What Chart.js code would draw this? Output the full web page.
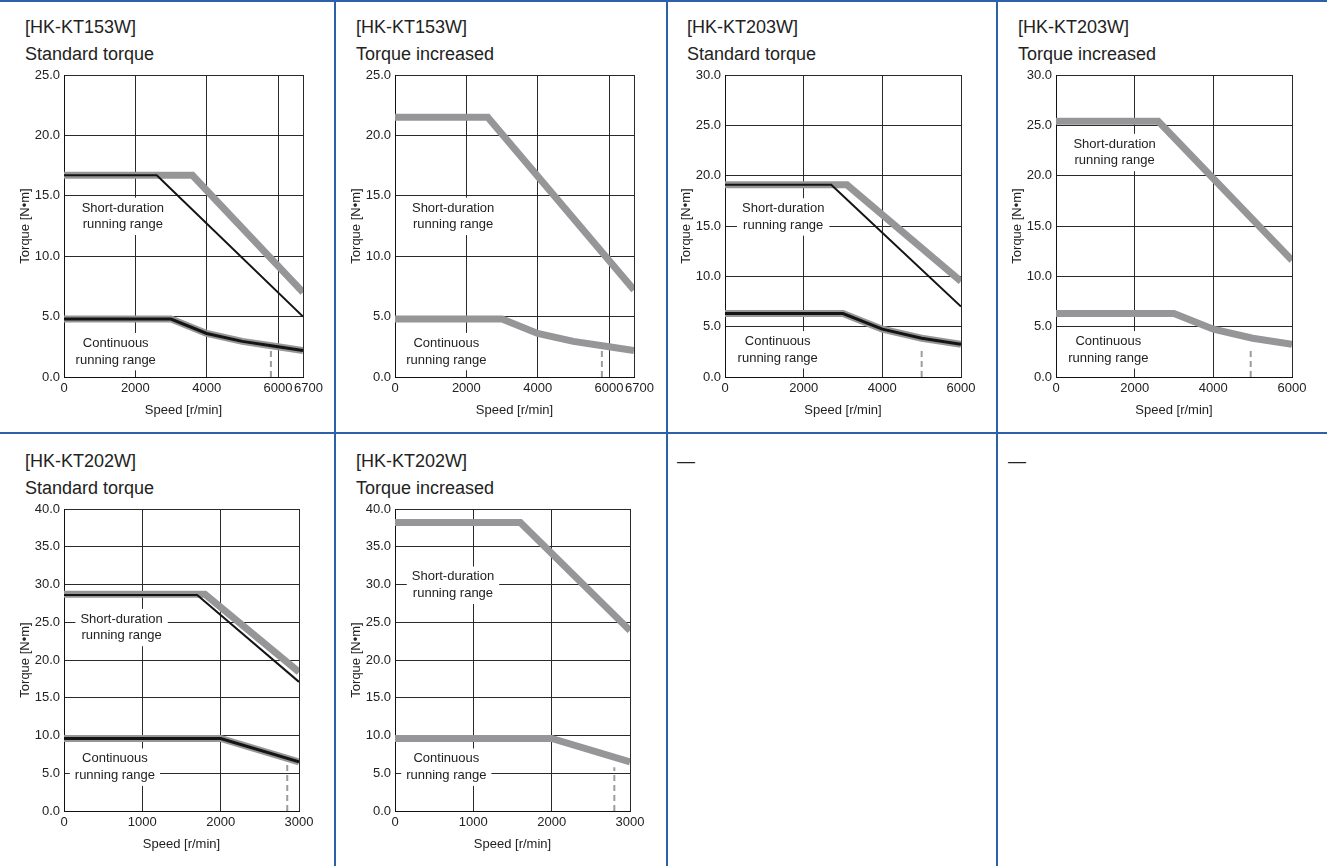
<!DOCTYPE html>
<html>
<head>
<meta charset="utf-8">
<script src="https://cdn.jsdelivr.net/npm/chart.js@4.4.1/dist/chart.umd.min.js"></script>
<style>
body{margin:0;width:1327px;height:866px;position:relative;overflow:hidden;background:#fff;font-family:"Liberation Sans",Arial,sans-serif;color:#222}
.rule{position:absolute;background:#2e5fa9}
.head{position:absolute;font-size:18px;line-height:26.5px;white-space:nowrap}
</style>
</head>
<body>
<div class="rule" style="left:0;top:0;width:1327px;height:2px"></div>
<div class="rule" style="left:0;top:432px;width:1327px;height:2px"></div>
<div class="rule" style="left:334px;top:0;width:2px;height:866px"></div>
<div class="rule" style="left:666px;top:0;width:2px;height:866px"></div>
<div class="rule" style="left:996px;top:0;width:2px;height:866px"></div>

<div class="head" style="left:25px;top:14px">[HK-KT153W]<br>Standard torque</div>
<div class="head" style="left:356px;top:14px">[HK-KT153W]<br>Torque increased</div>
<div class="head" style="left:687px;top:14px">[HK-KT203W]<br>Standard torque</div>
<div class="head" style="left:1018px;top:14px">[HK-KT203W]<br>Torque increased</div>
<div class="head" style="left:25px;top:448px">[HK-KT202W]<br>Standard torque</div>
<div class="head" style="left:356px;top:448px">[HK-KT202W]<br>Torque increased</div>
<div class="head" style="left:677px;top:448px">—</div>
<div class="head" style="left:1008px;top:448px">—</div>

<script>
// axis ticks
var speedTicks153 = [0, 2000, 4000, 6000, 6700];
var speedTicks203 = [0, 2000, 4000, 6000];
var speedTicks202 = [0, 1000, 2000, 3000];

// HK-KT153W
var kt153StdPeakSpeed = [0, 3600, 6700];
var kt153StdPeakTorque = [16.7, 16.7, 7.0];
var kt153StdLimitSpeed = [0, 2600, 6700];
var kt153StdLimitTorque = [16.7, 16.7, 5.0];
var kt153IncPeakSpeed = [0, 2600, 6700];
var kt153IncPeakTorque = [21.5, 21.5, 7.2];
var kt153ContSpeed = [0, 3000, 4000, 5000, 6000, 6700];
var kt153ContTorque = [4.8, 4.8, 3.6, 2.95, 2.5, 2.2];
var kt153RatedSpeed = [5800, 5800];
var kt153RatedTorque = [0, 2.4];

// HK-KT203W
var kt203StdPeakSpeed = [0, 3100, 6000];
var kt203StdPeakTorque = [19.1, 19.1, 9.5];
var kt203StdLimitSpeed = [0, 2700, 6000];
var kt203StdLimitTorque = [19.1, 19.1, 7.0];
var kt203IncPeakSpeed = [0, 2600, 6000];
var kt203IncPeakTorque = [25.4, 25.4, 11.6];
var kt203ContSpeed = [0, 3000, 4000, 5000, 6000];
var kt203ContTorque = [6.3, 6.3, 4.75, 3.85, 3.25];
var kt203RatedSpeed = [5000, 5000];
var kt203RatedTorque = [0, 2.9];

// HK-KT202W
var kt202StdPeakSpeed = [0, 1800, 3000];
var kt202StdPeakTorque = [28.7, 28.7, 18.4];
var kt202StdLimitSpeed = [0, 1700, 3000];
var kt202StdLimitTorque = [28.6, 28.6, 17.1];
var kt202IncPeakSpeed = [0, 1600, 3000];
var kt202IncPeakTorque = [38.2, 38.2, 23.9];
var kt202ContSpeed = [0, 2000, 3000];
var kt202ContTorque = [9.6, 9.6, 6.5];
var kt202RatedSpeed = [2850, 2850];
var kt202RatedTorque = [0, 6.3];

var GREY = '#969698';
var INK = '#222';

Chart.defaults.font.family = '"Liberation Sans", Arial, sans-serif';
Chart.defaults.font.size = 13;
Chart.defaults.color = INK;

function pts(xs, ys) {
  return xs.map(function (v, i) { return {x: v, y: ys[i]}; });
}

// white-boxed range captions, anchored in data units
var rangeLabels = {
  id: 'rangeLabels',
  beforeDatasetsDraw: function (chart, args, opts) {
    var ctx = chart.ctx, x = chart.scales.x, y = chart.scales.y;
    ctx.save();
    ctx.font = '13px "Liberation Sans", Arial, sans-serif';
    ctx.textAlign = 'center';
    ctx.textBaseline = 'middle';
    (opts.items || []).forEach(function (it) {
      var cx = x.getPixelForValue(it.x), cy = y.getPixelForValue(it.y);
      var lh = 16.7;
      var w = Math.max.apply(null, it.lines.map(function (l) { return ctx.measureText(l).width; })) + 10;
      var h = it.lines.length * lh + 4;
      ctx.fillStyle = '#fff';
      ctx.fillRect(cx - w / 2, cy - h / 2, w, h);
      ctx.fillStyle = INK;
      it.lines.forEach(function (l, i) {
        ctx.fillText(l, cx, cy + (i - (it.lines.length - 1) / 2) * lh);
      });
    });
    ctx.restore();
  }
};

function torqueChart(box, xTicks, yMax, grey, black, rated, labels) {
  var cv = document.createElement('canvas');
  var w = box.r - box.l + 80, h = box.b - box.t + 60;
  cv.width = w; cv.height = h;
  cv.style.cssText = 'position:absolute;left:' + (box.l - 50) + 'px;top:' + (box.t - 12) + 'px;width:' + w + 'px;height:' + h + 'px';
  document.body.appendChild(cv);

  var sets = [];
  black.forEach(function (d) {
    sets.push({data: d.data, borderColor: '#141414', borderWidth: d.w, order: 1});
  });
  grey.forEach(function (d) {
    sets.push({data: d, borderColor: GREY, borderWidth: 7, order: 2});
  });
  sets.push({data: rated, borderColor: '#9c9c9c', borderWidth: 2, borderDash: [6, 4], order: 3});
  sets.forEach(function (s) {
    s.pointRadius = 0; s.fill = false; s.tension = 0;
    s.borderJoinStyle = 'miter'; s.borderCapStyle = 'butt';
  });

  new Chart(cv, {
    type: 'line',
    data: {datasets: sets},
    plugins: [rangeLabels],
    options: {
      responsive: false,
      animation: false,
      devicePixelRatio: 1,
      layout: {padding: {left: 0, top: 12, right: 30, bottom: 0}},
      plugins: {
        legend: {display: false},
        tooltip: {enabled: false},
        rangeLabels: {items: labels}
      },
      scales: {
        x: {
          type: 'linear', min: 0, max: xTicks[xTicks.length - 1],
          afterBuildTicks: function (s) { s.ticks = xTicks.map(function (v) { return {value: v}; }); },
          afterFit: function (s) { s.height = 48; },
          ticks: {
            autoSkip: false, maxRotation: 0, padding: 4,
            callback: function (v) { return v === 6700 ? '   6700' : String(v); }
          },
          grid: {color: '#2a2a2a', drawTicks: false},
          border: {color: '#111'},
          title: {display: true, text: 'Speed [r/min]', padding: {top: 0, bottom: 7}}
        },
        y: {
          min: 0, max: yMax,
          afterFit: function (s) { s.width = 50; },
          ticks: {stepSize: 5, padding: 4, callback: function (v) { return v.toFixed(1); }},
          grid: {color: '#2a2a2a', drawTicks: false},
          border: {color: '#111'},
          title: {display: true, text: 'Torque [N•m]', padding: {top: 4, bottom: 0}}
        }
      }
    }
  });
}

var shortTxt = ['Short-duration', 'running range'];
var contTxt = ['Continuous', 'running range'];

torqueChart({l: 64, r: 303, t: 75, b: 377}, speedTicks153, 25,
  [pts(kt153StdPeakSpeed, kt153StdPeakTorque), pts(kt153ContSpeed, kt153ContTorque)],
  [{data: pts(kt153StdLimitSpeed, kt153StdLimitTorque), w: 2}, {data: pts(kt153ContSpeed, kt153ContTorque), w: 3}],
  pts(kt153RatedSpeed, kt153RatedTorque),
  [{x: 1650, y: 13.3, lines: shortTxt}, {x: 1450, y: 2.1, lines: contTxt}]);

torqueChart({l: 395, r: 634, t: 75, b: 377}, speedTicks153, 25,
  [pts(kt153IncPeakSpeed, kt153IncPeakTorque), pts(kt153ContSpeed, kt153ContTorque)],
  [],
  pts(kt153RatedSpeed, kt153RatedTorque),
  [{x: 1630, y: 13.3, lines: shortTxt}, {x: 1440, y: 2.1, lines: contTxt}]);

torqueChart({l: 725, r: 961, t: 75, b: 377}, speedTicks203, 30,
  [pts(kt203StdPeakSpeed, kt203StdPeakTorque), pts(kt203ContSpeed, kt203ContTorque)],
  [{data: pts(kt203StdLimitSpeed, kt203StdLimitTorque), w: 2}, {data: pts(kt203ContSpeed, kt203ContTorque), w: 3}],
  pts(kt203RatedSpeed, kt203RatedTorque),
  [{x: 1480, y: 15.9, lines: shortTxt}, {x: 1340, y: 2.7, lines: contTxt}]);

torqueChart({l: 1056, r: 1292, t: 75, b: 377}, speedTicks203, 30,
  [pts(kt203IncPeakSpeed, kt203IncPeakTorque), pts(kt203ContSpeed, kt203ContTorque)],
  [],
  pts([4950, 4950], kt203RatedTorque),
  [{x: 1490, y: 22.3, lines: shortTxt}, {x: 1330, y: 2.7, lines: contTxt}]);

torqueChart({l: 64, r: 299, t: 509, b: 811}, speedTicks202, 40,
  [pts(kt202StdPeakSpeed, kt202StdPeakTorque), pts(kt202ContSpeed, kt202ContTorque)],
  [{data: pts(kt202StdLimitSpeed, kt202StdLimitTorque), w: 2}, {data: pts(kt202ContSpeed, kt202ContTorque), w: 3}],
  pts(kt202RatedSpeed, kt202RatedTorque),
  [{x: 735, y: 24.3, lines: shortTxt}, {x: 650, y: 5.8, lines: contTxt}]);

torqueChart({l: 395, r: 630, t: 509, b: 811}, speedTicks202, 40,
  [pts(kt202IncPeakSpeed, kt202IncPeakTorque), pts(kt202ContSpeed, kt202ContTorque)],
  [],
  pts([2800, 2800], [0, 5.8]),
  [{x: 740, y: 29.9, lines: shortTxt}, {x: 655, y: 5.8, lines: contTxt}]);
</script>
</body>
</html>
